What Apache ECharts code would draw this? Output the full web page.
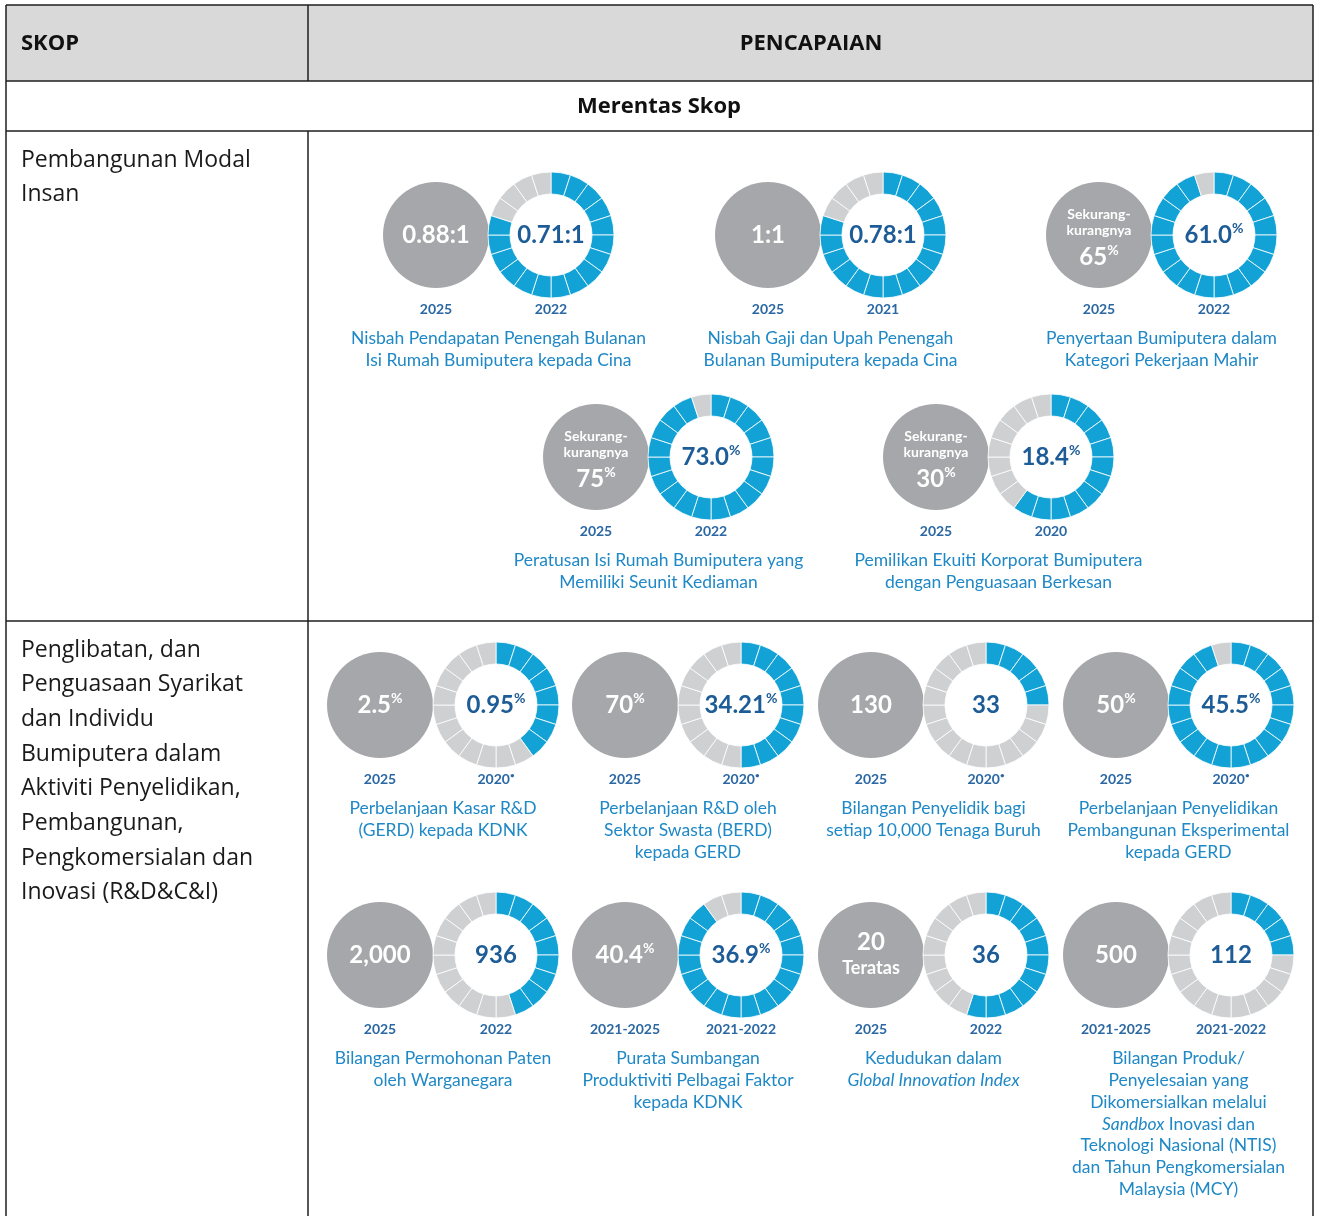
<!DOCTYPE html>
<html>
<head>
<meta charset="utf-8">
<script src="https://cdn.jsdelivr.net/npm/echarts@6/dist/echarts.min.js"></script>
<style>
html, body {margin: 0; padding: 0; background: #fff;}
#main {width: 1321px; height: 1216px;}
</style>
</head>
<body>
<div id="main"></div>
<script>
// 数据：目标值 / 当前值 / 年份 / 说明
var targetValues = ['0.88:1', '1:1', '65%', '75%', '30%', '2.5%', '70%', '130', '50%', '2,000', '40.4%', '20', '500'];
var targetNotes = ['', '', 'Sekurang-|kurangnya', 'Sekurang-|kurangnya', 'Sekurang-|kurangnya', '', '', '', '', '', '', '', ''];
var targetSuffix = ['', '', '', '', '', '', '', '', '', '', '', 'Teratas', ''];
var currentValues = ['0.71:1', '0.78:1', '61.0%', '73.0%', '18.4%', '0.95%', '34.21%', '33', '45.5%', '936', '36.9%', '36', '112'];
var targetYears = ['2025', '2025', '2025', '2025', '2025', '2025', '2025', '2025', '2025', '2025', '2021-2025', '2025', '2021-2025'];
var currentYears = ['2022', '2021', '2022', '2022', '2020', '2020*', '2020*', '2020*', '2020*', '2022', '2021-2022', '2022', '2021-2022'];
// 每个圆环共20格，已填充的格数
var filledSegments = [16, 16, 19, 19, 12, 8, 10, 5, 19, 9, 18, 11, 5];
var captions = [
    'Nisbah Pendapatan Penengah Bulanan\nIsi Rumah Bumiputera kepada Cina',
    'Nisbah Gaji dan Upah Penengah\nBulanan Bumiputera kepada Cina',
    'Penyertaan Bumiputera dalam\nKategori Pekerjaan Mahir',
    'Peratusan Isi Rumah Bumiputera yang\nMemiliki Seunit Kediaman',
    'Pemilikan Ekuiti Korporat Bumiputera\ndengan Penguasaan Berkesan',
    'Perbelanjaan Kasar R&D\n(GERD) kepada KDNK',
    'Perbelanjaan R&D oleh\nSektor Swasta (BERD)\nkepada GERD',
    'Bilangan Penyelidik bagi\nsetiap 10,000 Tenaga Buruh',
    'Perbelanjaan Penyelidikan\nPembangunan Eksperimental\nkepada GERD',
    'Bilangan Permohonan Paten\noleh Warganegara',
    'Purata Sumbangan\nProduktiviti Pelbagai Faktor\nkepada KDNK',
    'Kedudukan dalam\n{i|Global Innovation Index}',
    'Bilangan Produk/\nPenyelesaian yang\nDikomersialkan melalui\n{i|Sandbox} Inovasi dan\nTeknologi Nasional (NTIS)\ndan Tahun Pengkomersialan\nMalaysia (MCY)'
];
var scopeTexts = [
    ['Pembangunan Modal', 'Insan'],
    ['Penglibatan, dan', 'Penguasaan Syarikat', 'dan Individu', 'Bumiputera dalam', 'Aktiviti Penyelidikan,',
        'Pembangunan,', 'Pengkomersialan dan', 'Inovasi (R&D&C&I)']
];

// 布局：[灰圆x, 圆环x, 中心y, 年份y, 说明y]
var layout = [
    [436, 551, 235, 309, 339], [768, 883, 235, 309, 339], [1099, 1214, 235, 309, 339],
    [596, 711, 457, 531, 561], [936, 1051, 457, 531, 561],
    [380, 496, 705, 779, 809], [625, 741, 705, 779, 809], [871, 986, 705, 779, 809], [1116, 1231, 705, 779, 809],
    [380, 496, 955, 1029, 1059], [625, 741, 955, 1029, 1059], [871, 986, 955, 1029, 1059], [1116, 1231, 955, 1029, 1059]
];
var SEGMENTS = 20;
var BLUE = '#12a2d6', LIGHT = '#cfd0d2', DARK_GRAY = '#a6a7aa';
var NUM_FONT = 'Lato, "Open Sans", sans-serif';
var TABLE_FONT = '"Open Sans", "Noto Sans", sans-serif';

function valueText(str) {
    if (str.slice(-1) === '%') return '{v|' + str.slice(0, -1) + '}{p|%}';
    if (str.slice(-1) === '*') return '{v|' + str.slice(0, -1) + '}{p|•}';
    return '{v|' + str + '}';
}

var chart = echarts.init(document.getElementById('main'));
var series = [];
var elements = [];

// 表格
elements.push({type: 'rect', shape: {x: 6, y: 5, width: 1307, height: 76}, style: {fill: '#d9d9d9'}, z: 0});
var lineStyle = {stroke: '#1e1e1e', lineWidth: 1.5};
[[6, 5, 1313, 5], [6, 81, 1313, 81], [6, 131, 1313, 131], [6, 621, 1313, 621],
    [6, 5, 6, 1216], [1313, 5, 1313, 1216], [308, 5, 308, 81], [308, 131, 308, 1216]].forEach(function (l) {
    elements.push({type: 'line', shape: {x1: l[0], y1: l[1], x2: l[2], y2: l[3]}, style: lineStyle, z: 1});
});
elements.push({type: 'text', style: {text: 'SKOP', x: 21, y: 44, verticalAlign: 'middle', fill: '#111',
    font: 'bold 22px ' + TABLE_FONT}});
elements.push({type: 'text', style: {text: 'PENCAPAIAN', x: 811, y: 44, align: 'center', verticalAlign: 'middle', fill: '#111',
    font: 'bold 22px ' + TABLE_FONT}});
elements.push({type: 'text', style: {text: 'Merentas Skop', x: 659, y: 107, align: 'center', verticalAlign: 'middle', fill: '#111',
    font: 'bold 22px ' + TABLE_FONT}});
[160, 650].forEach(function (y0, r) {
    scopeTexts[r].forEach(function (t, k) {
        elements.push({type: 'text', style: {text: t, x: 21, y: y0 + k * 34.7, verticalAlign: 'middle', fill: '#1a1a1a',
            font: '23px ' + TABLE_FONT}});
    });
});

filledSegments.forEach(function (filled, i) {
    var p = layout[i];
    // 灰色目标圆
    series.push({
        type: 'pie', silent: true, center: [p[0], p[2]], radius: [0, 53],
        label: {show: false}, labelLine: {show: false},
        data: [{value: 1, itemStyle: {color: DARK_GRAY}}]
    });
    // 分段圆环
    var segs = [];
    for (var k = 0; k < SEGMENTS; k++) {
        segs.push({value: 1, itemStyle: {color: k < filled ? BLUE : LIGHT}});
    }
    series.push({
        type: 'pie', silent: true, center: [p[1], p[2]], radius: [41, 63], startAngle: 90, clockwise: true,
        itemStyle: {borderColor: '#fff', borderWidth: 0.8},
        label: {show: false}, labelLine: {show: false}, data: segs
    });

    var whiteRich = {
        v: {fontSize: 24, fontFamily: NUM_FONT, fontWeight: 'bold', fill: '#fff', lineHeight: 28},
        p: {fontSize: 14, fontFamily: NUM_FONT, fontWeight: 'bold', fill: '#fff', verticalAlign: 'top', lineHeight: 28}
    };
    if (targetNotes[i]) {
        targetNotes[i].split('|').forEach(function (t, k) {
            elements.push({type: 'text', z: 10, style: {text: t, x: p[0], y: p[2] - 21 + k * 16, align: 'center', verticalAlign: 'middle',
                fill: '#fff', font: 'bold 14px ' + NUM_FONT}});
        });
        elements.push({type: 'text', z: 10, style: {text: valueText(targetValues[i]), rich: whiteRich,
            x: p[0], y: p[2] + 22, align: 'center', verticalAlign: 'middle'}});
    } else if (targetSuffix[i]) {
        elements.push({type: 'text', z: 10, style: {text: valueText(targetValues[i]), rich: whiteRich,
            x: p[0], y: p[2] - 13, align: 'center', verticalAlign: 'middle'}});
        elements.push({type: 'text', z: 10, style: {text: targetSuffix[i], x: p[0], y: p[2] + 13, align: 'center', verticalAlign: 'middle',
            fill: '#fff', font: 'bold 18px ' + NUM_FONT}});
    } else {
        elements.push({type: 'text', z: 10, style: {text: valueText(targetValues[i]), rich: whiteRich,
            x: p[0], y: p[2], align: 'center', verticalAlign: 'middle'}});
    }
    elements.push({type: 'text', z: 10, style: {text: valueText(currentValues[i]), x: p[1], y: p[2], align: 'center', verticalAlign: 'middle',
        rich: {
            v: {fontSize: 24, fontFamily: NUM_FONT, fontWeight: 'bold', fill: '#1d5c96', lineHeight: 28},
            p: {fontSize: 14, fontFamily: NUM_FONT, fontWeight: 'bold', fill: '#1d5c96', verticalAlign: 'top', lineHeight: 28}
        }}});

    // 年份
    var yearRich = {
        v: {fontSize: 14, fontFamily: NUM_FONT, fontWeight: 'bold', fill: '#2b68a3', lineHeight: 16},
        p: {fontSize: 8, fontFamily: NUM_FONT, fontWeight: 'bold', fill: '#2b68a3', verticalAlign: 'top', lineHeight: 16}
    };
    elements.push({type: 'text', style: {text: valueText(targetYears[i]), rich: yearRich, x: p[0], y: p[3], align: 'center', verticalAlign: 'middle'}});
    elements.push({type: 'text', style: {text: valueText(currentYears[i]), rich: yearRich, x: p[1], y: p[3], align: 'center', verticalAlign: 'middle'}});

    // 说明
    elements.push({type: 'text', style: {
        text: captions[i], x: (p[0] + p[1]) / 2 + 5, y: p[4] - 11, align: 'center', verticalAlign: 'top',
        fill: '#1f88c6', fontSize: 17.5, fontFamily: NUM_FONT, lineHeight: 21.7,
        rich: {i: {fontStyle: 'italic', fontSize: 17.5, fontFamily: NUM_FONT, fill: '#1f88c6', lineHeight: 21.7}}
    }});
});

chart.setOption({
    animation: false,
    series: series,
    graphic: {elements: elements}
});
</script>
</body>
</html>
